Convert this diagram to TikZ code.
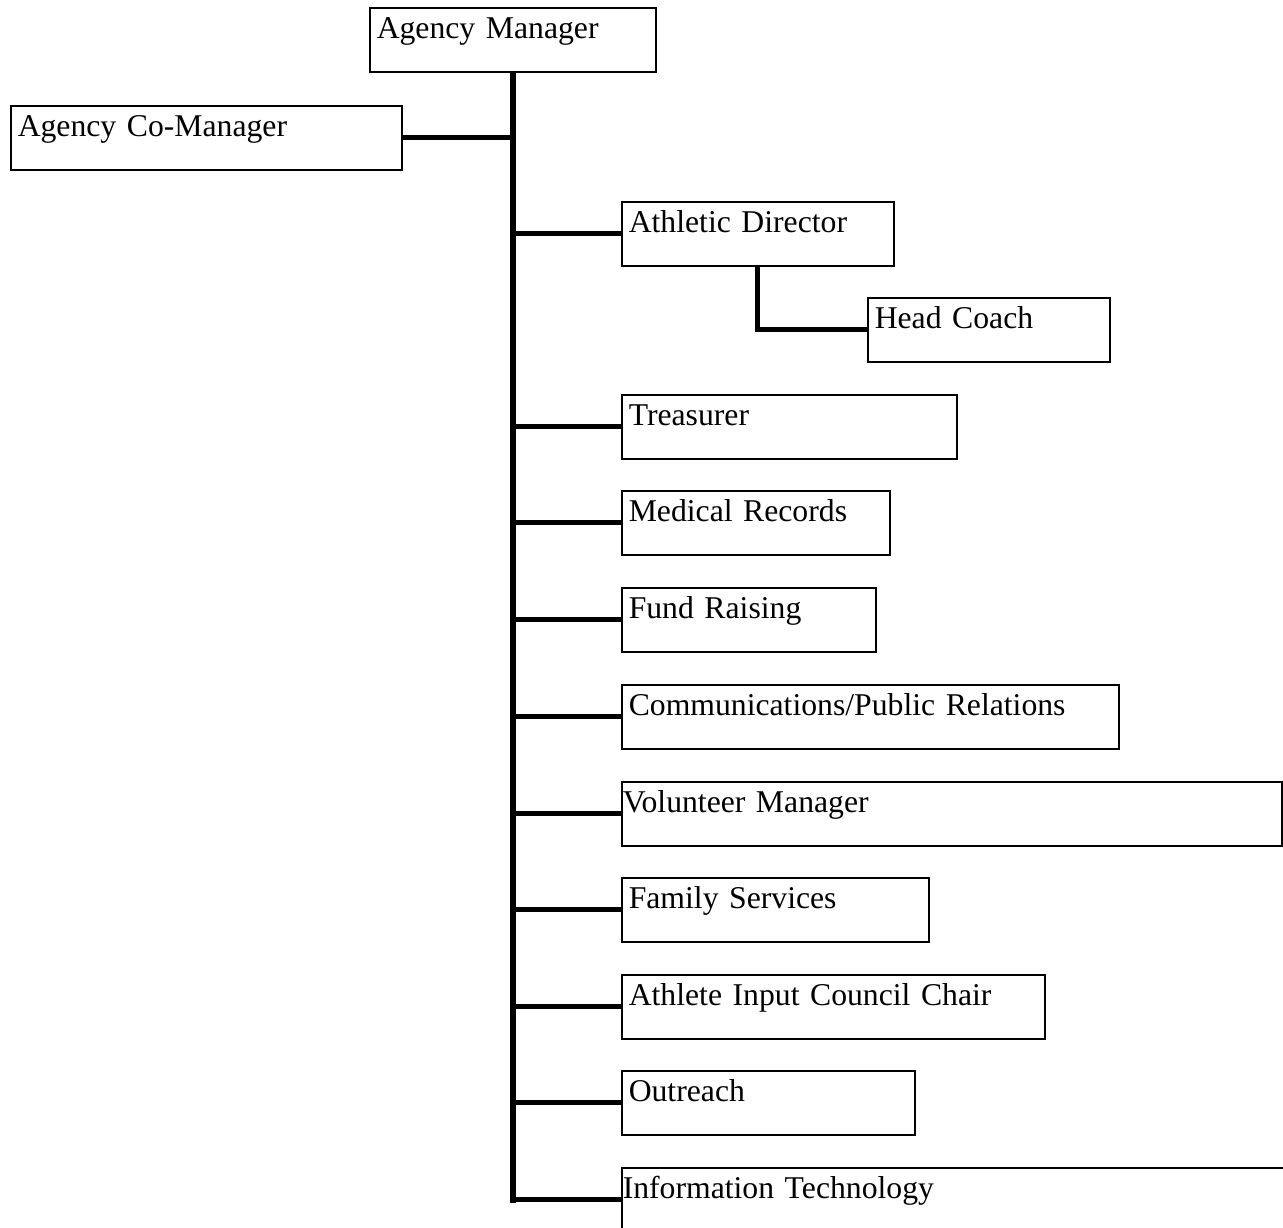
\documentclass[tikz,border=0pt]{standalone}
\usepackage{fontspec}
\setmainfont{Liberation Serif}
\usepackage{tikz}

\begin{document}
\begin{tikzpicture}[x=0.5pt,y=-0.5pt,
    post/.style={draw,rectangle,anchor=north west,line width=0.75pt,
      inner ysep=0pt,inner xsep=3.5pt,text height=15.5pt,text depth=16.5pt,
      align=left,font=\fontsize{15.85pt}{19pt}\selectfont},
    tight/.style={inner xsep=0.5pt},
    trunk/.style={line width=3pt},
    branch/.style={line width=2.5pt}]
            \useasboundingbox (0,0) rectangle (1283,1227);
            \node[post,text width=136pt] at (369,7) (am) {Agency Manager};
            \node[post,text width=188.5pt] at (10,105) (co) {Agency Co-Manager};
            \node[post,text width=129pt] at (621,201) (ad) {Athletic Director};
            \node[post,text width=114pt] at (867,297) (hc) {Head Coach};
            \node[post,text width=160.5pt] at (621,394) (tr) {Treasurer};
            \node[post,text width=127pt] at (621,490) (mr) {Medical Records};
            \node[post,text width=120pt] at (621,587) (fr) {Fund Raising};
            \node[post,text width=241.5pt] at (621,684) (pr) {Communications/Public Relations};
            \node[post,tight,text width=329pt] at (621,781) (vm) {Volunteer Manager};
            \node[post,text width=146.5pt] at (621,877) (fs) {Family Services};
            \node[post,text width=204.5pt] at (621,974) (ic) {Athlete Input Council Chair};
            \node[post,text width=139.5pt] at (621,1070) (or) {Outreach};
            \node[post,tight,text width=399pt] at (621,1167) (it) {Information Technology};
            \draw[trunk] (am.south) -- ([yshift=-1.5pt]am.south |- it.west);
            \draw[branch] (co.east) -- (am.south |- co.east);
            \foreach \n in {ad,tr,mr,fr,pr,vm,fs,ic,or,it}
              \draw[branch] (am.south |- \n.west) -- (\n.west);
            \draw[branch] (ad.south) |- (hc.west);
        \end{tikzpicture}
\end{document}
